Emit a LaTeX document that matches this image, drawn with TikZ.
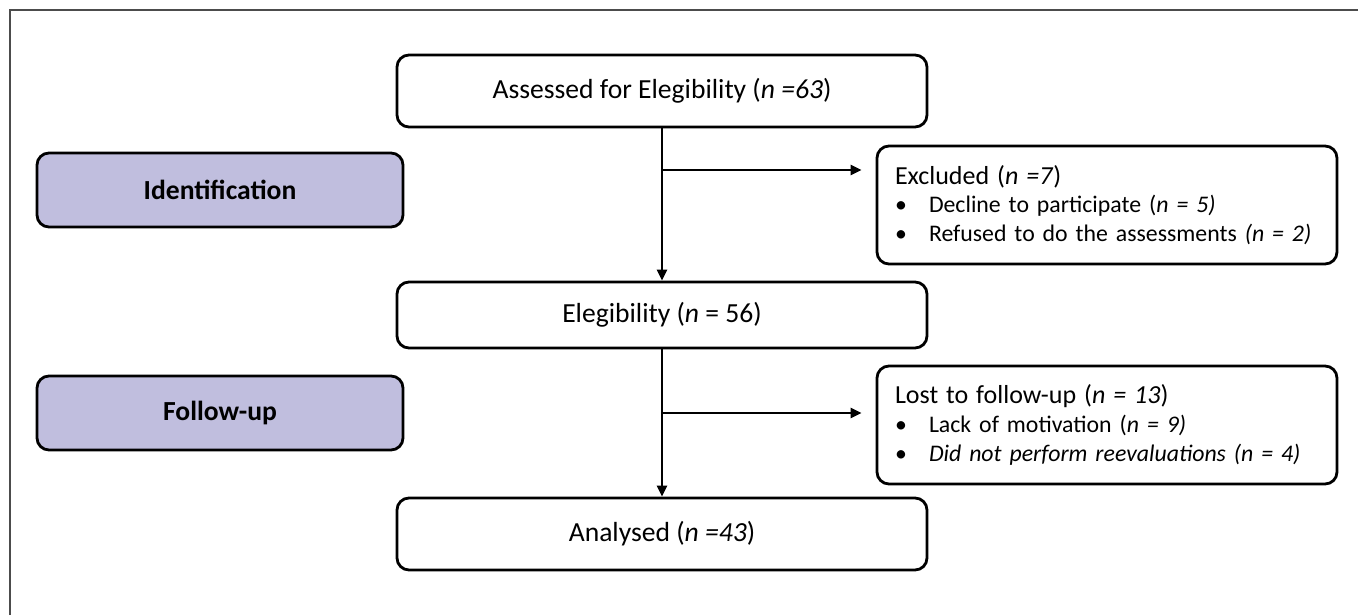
\documentclass[tikz,border=0pt]{standalone}
\usepackage{fontspec}
\setmainfont{Carlito}
\usetikzlibrary{arrows.meta}
\definecolor{phase}{RGB}{192,190,222}
\tikzset{
  stagebox/.style={draw, line width=1.4pt, rounded corners=6pt, minimum width=265pt, minimum height=36pt, fill=white, font=\fontsize{13.8}{16}\selectfont},
  sidebox/.style={draw, line width=1.4pt, rounded corners=6pt, inner xsep=9pt, text width=212pt, minimum height=59pt, align=left, fill=white, font=\fontsize{11.9}{14.3}\selectfont},
  phasebox/.style={draw, line width=1.4pt, rounded corners=6pt, minimum width=183pt, minimum height=37pt, fill=phase, font=\fontsize{13.8}{16}\selectfont\bfseries},
  flow/.style={line width=1.3pt, -{Triangle[length=5.5pt,width=5pt]}},
}
\newcommand{\itm}[1]{\mbox{\makebox[17pt][l]{\textbullet}#1}}
\newcommand{\boxhead}[1]{{\fontsize{13}{15}\selectfont #1}}
\begin{document}
\begin{tikzpicture}[x=0.5pt, y=-0.5pt]
  \useasboundingbox (0,0) rectangle (1358,615);
  \draw[gray!60!black, line width=1pt] (10,615) -- (10,10) -- (1358,10);

  % main flow
  \node[stagebox] (assessed) at (662,91) {Assessed for Elegibility (\textit{n =63})};
  \node[stagebox, minimum height=33pt] (elig) at (662,315) {Elegibility (\textit{n} = 56)};
  \node[stagebox] (analysed) at (662,534) {Analysed (\textit{n =43})};

  % side boxes
  \node[sidebox] (excluded) at (1107,205) {\boxhead{Excluded (\textit{n =7})}\\
    \itm{Decline to participate (\textit{n = 5)}}\\
    \itm{Refused to do the assessments \textit{(n = 2)}}};
  \node[sidebox] (lost) at (1107,425) {\boxhead{Lost to follow-up (\textit{n = 13})}\\
    \itm{Lack of motivation (\textit{n = 9)}}\\
    \itm{\textit{Did not perform reevaluations (n = 4)}}};

  % phases
  \node[phasebox] (ident) at (220,190) {Identification};
  \node[phasebox] (follow) at (220,413) {Follow-up};

  \coordinate (split1) at (662,170);
  \coordinate (split2) at (662,413);
  \draw[flow] (assessed) -- (elig);
  \draw[flow] (elig) -- (analysed);
  \draw[flow, shorten >=7pt] (split1) -- (split1 -| excluded.west);
  \draw[flow, shorten >=7pt] (split2) -- (split2 -| lost.west);
\end{tikzpicture}
\end{document}
